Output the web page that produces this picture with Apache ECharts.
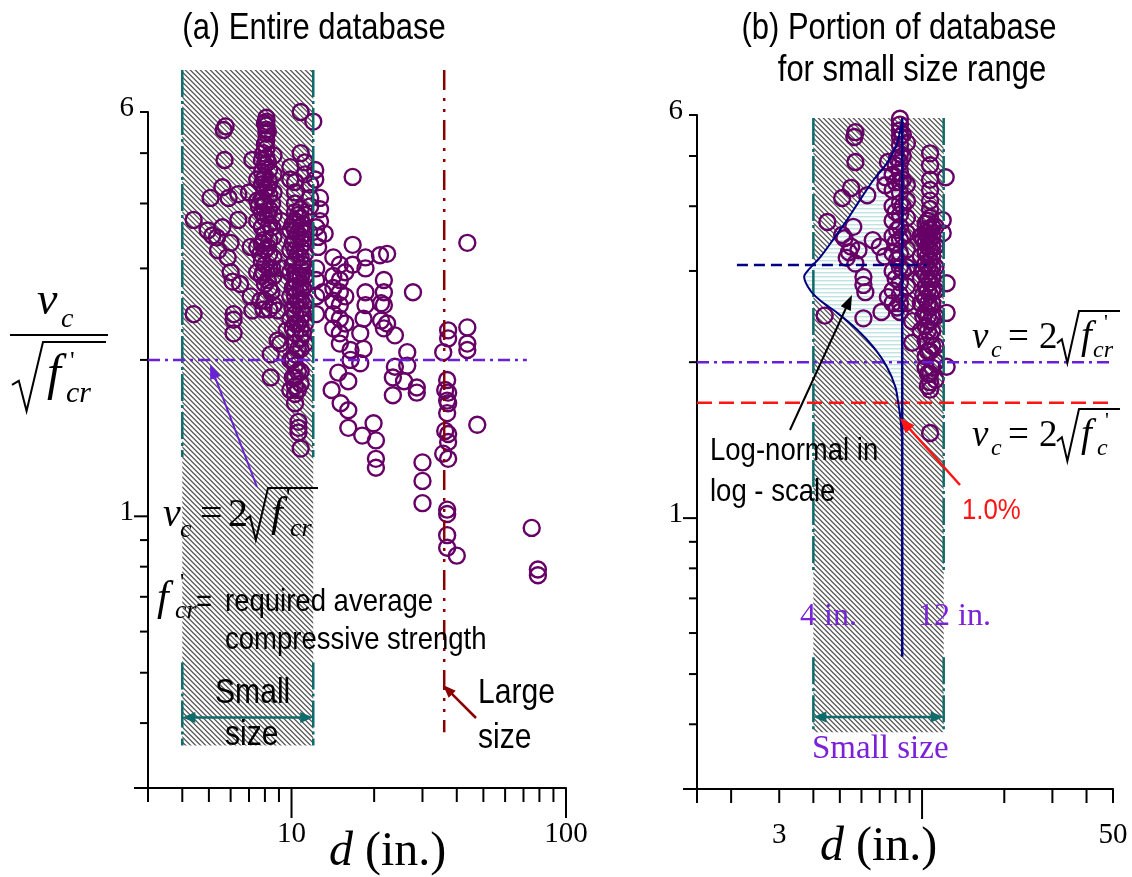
<!DOCTYPE html>
<html><head><meta charset="utf-8">
<script src="https://cdn.jsdelivr.net/npm/echarts@6/dist/echarts.min.js"></script>
<style>html,body{margin:0;padding:0;background:#fff}#c{width:1132px;height:877px}</style>
</head><body><div id="c"></div>
<script>
// ================= DATA =================
// Panel (a): entire database  [d (in.), vc/sqrt(f'cr)]
const pointsA = [
[4.4,3.72],[4.4,2.45],[5.07,4.1],[5.66,5.54],[5.75,5.63],[5.7,4.85],[5.6,4.3],[5.9,4.1],[6.4,4.17],[5.6,3.6],[6.4,3.72],[5.15,3.47],[6.0,3.36],[5.4,3.25],[5.85,3.15],[7.1,3.3],[6.0,2.95],[6.1,2.83],[6.5,2.8],[6.15,2.45],[6.15,2.39],[6.15,2.25],[7.2,2.49],[7.2,4.85],[5.35,3.44],[4.95,3.55],[7.1,2.65],[7.7,2.6],[7.9,2.5],[7.0,4.2],
[8.1,5.85],[8.1,5.75],[8.1,5.65],[8.1,5.55],[8.1,5.45],[8.1,5.3],[8.1,5.1],[8.1,4.9],
[7.8,4.85],[7.8,4.6],[7.8,4.35],[7.8,4.1],[7.8,3.85],[7.8,3.6],[7.8,3.35],[7.8,3.1],[7.8,2.9],
[8.0,4.75],[8.0,4.5],[8.0,4.25],[8.0,4.0],[8.0,3.75],[8.0,3.5],[8.0,3.25],[8.0,3.05],[8.0,2.8],[8.0,2.6],
[8.3,4.65],[8.3,4.4],[8.3,4.15],[8.3,3.9],[8.3,3.65],[8.3,3.4],[8.3,3.2],[8.3,3.0],[8.3,2.75],[8.3,2.5],
[8.6,4.95],[8.6,4.55],[8.6,4.2],[8.6,3.8],[8.6,3.45],[8.6,3.15],[8.6,2.9],[8.6,2.55],
[7.5,4.45],[7.5,4.05],[7.5,3.7],[7.5,3.3],[7.5,2.95],
[7.9,5.0],[8.2,4.8],[7.9,4.45],[8.2,4.3],[7.9,3.95],[8.2,3.8],[7.9,3.4],[8.2,3.3],[7.9,2.95],[8.2,2.85],[7.7,3.2],[8.5,3.6],[8.5,4.0],[8.5,3.0],[8.45,2.7],[7.6,3.95],[8.0,5.2],[8.2,5.5],[8.0,5.7],
[8.4,2.05],[8.4,1.85],[9.1,2.15],[8.9,2.49],[8.9,2.18],[9.6,2.28],[9.2,3.7],[9.2,3.0],
[9.9,3.55],[9.9,3.25],[9.9,2.95],[9.9,2.65],[9.9,2.4],[9.9,2.0],[9.9,1.75],[9.9,4.7],[9.9,4.45],
[10.3,4.4],[10.3,4.2],[10.3,4.0],[10.3,3.85],[10.3,3.7],[10.3,3.55],[10.3,3.4],[10.3,3.25],[10.3,3.1],[10.3,2.95],[10.3,2.85],[10.3,2.75],[10.3,2.65],[10.3,2.55],[10.3,2.45],[10.3,2.35],[10.3,2.25],[10.3,2.15],[10.3,2.05],[10.3,1.95],[10.3,1.85],[10.3,1.78],[10.3,1.72],[10.3,1.65],
[10.8,6.0],[10.8,5.0],[10.8,3.9],[10.8,3.75],[10.8,3.6],[10.8,3.45],[10.8,3.3],[10.8,3.15],[10.8,3.0],[10.8,2.9],[10.8,2.8],[10.8,2.7],[10.8,2.6],[10.8,2.5],[10.8,2.4],[10.8,2.3],[10.8,2.2],[10.8,2.1],[10.8,1.9],[10.8,1.8],
[10.1,3.65],[10.1,3.35],[10.1,3.05],[10.1,2.75],[10.1,2.5],[10.1,2.3],[10.55,3.8],[10.55,3.5],[10.55,3.2],[10.55,2.9],[10.55,2.6],[10.55,2.35],[10.55,2.1],[11.0,3.65],[11.0,3.35],[11.0,3.05],[11.0,2.75],[11.0,2.45],[11.0,2.25],[10.55,1.9],[10.55,1.75],[10.1,2.0],[10.1,1.85],
[11.2,4.55],[11.2,4.8],[11.2,3.8],[11.2,3.5],[11.2,3.2],[11.2,2.9],[11.2,2.6],[11.2,2.35],[11.2,2.15],
[10.6,1.52],[10.6,1.48],[10.6,1.45],[10.8,1.35],
[11.7,4.35],[11.7,4.1],[11.7,3.95],[12.0,6.6],[12.0,5.75],[12.2,4.64],[12.2,4.45],[12.7,4.1],[12.7,3.9],[12.7,3.7],[13.2,3.5],[12.5,3.45],[12.5,3.3],[12.3,3.6],[12.3,3.0],[12.3,2.85],[12.3,2.65],[12.3,2.45],[13.0,2.7],
[16.7,4.5],[16.7,3.33],[16.7,3.05],
[14.2,3.15],[14.2,2.9],[14.2,2.75],[14.2,2.6],[14.2,2.45],[14.2,2.3],
[15.0,3.05],[15.0,2.85],[15.0,2.7],[15.0,2.55],[15.0,2.4],[15.0,2.25],[15.0,2.15],
[15.7,2.95],[15.7,2.65],[15.7,2.35],
[16.4,2.09],[16.4,2.0],[14.8,1.89],[16.1,1.82],[14.0,1.75],[15.1,1.65],[16.1,1.6],[16.1,1.48],[18.1,1.43],[19.9,1.51],[20.3,1.40],[20.3,1.29],[20.3,1.24],
[18.6,3.15],[18.6,3.0],[18.6,2.7],[18.6,2.55],[18.3,2.4],[18.3,2.1],[21.0,3.18],[22.3,3.2],[21.7,2.85],[21.7,2.7],[21.7,2.55],[21.7,2.3],[22.3,2.35],[23.8,2.23],[23.8,1.94],[17.8,2.25],[17.8,1.97],[27.7,2.7],[26.4,2.07],[26.4,1.95],[23.4,1.85],[23.4,1.71],[25.7,1.82],[28.6,1.77],[28.6,1.73],[30,1.27],[30,1.17],[30,1.06],[21.2,2.38],[21.2,2.57],
[37.2,2.28],[37.2,2.2],[35.7,2.07],[36.9,1.83],[36.3,1.75],[37.2,1.73],[36.9,1.67],[37.2,1.65],[36.9,1.58],[36.3,1.46],[37.2,1.44],[37.2,1.39],[35.7,1.32],[37.2,1.29],[36.9,1.03],[36.9,1.01],[36.9,0.92],[36.9,0.87],[40,0.84],
[43.7,3.36],[43.7,2.31],[43.7,2.15],[43.7,2.09],[47.5,1.5],[75,0.95],[79,0.79],[79,0.77]
];
// Panel (b): portion of database for small size range
const pointsB = [
[5.7,5.56],[5.65,5.44],[5.7,4.87],[5.5,4.34],[5.1,4.15],[6.3,4.2],[7.34,4.55],[7.34,4.39],[7.5,4.87],[4.5,3.73],[5.6,3.65],[5.2,3.47],[5.5,3.34],[5.85,3.29],[5.3,3.18],[5.7,3.1],[6.6,3.44],[7.0,3.34],[7.3,3.2],[6.1,2.92],[6.1,2.82],[6.2,2.73],[4.4,2.46],[6.1,2.43],[7.1,2.5],[7.5,2.67],[5.1,3.52],[5.4,3.26],
[8.3,5.9],[8.3,5.75],[8.3,5.6],[8.3,5.45],[8.3,5.25],[8.3,5.05],[8.3,4.85],[8.3,4.65],[8.3,4.45],[8.3,4.25],[8.3,4.05],[8.3,3.85],[8.3,3.65],[8.3,3.45],[8.3,3.25],[8.3,3.05],[8.3,2.85],[8.3,2.7],[8.3,2.6],[8.3,2.5],
[7.8,4.6],[7.8,4.3],[7.8,4.0],[7.8,3.75],[7.8,3.5],[7.8,3.25],[7.8,3.0],[7.8,2.75],[7.8,2.6],
[8.8,5.3],[8.8,4.4],[8.8,4.1],[8.8,3.8],[8.8,3.55],[8.8,3.3],[8.8,3.05],[8.8,2.8],[8.8,2.6],
[8.5,5.5],[8.5,5.0],[8.5,4.5],[8.5,4.0],[8.5,3.5],[8.5,3.0],[8.0,4.8],[8.0,4.45],[8.0,3.9],[8.0,3.4],[8.0,2.9],
[8.1,4.95],[8.1,3.6],[8.1,3.15],[8.1,2.55],[9.2,2.18],[9.2,2.4],
[9.9,3.5],[9.9,3.2],[9.9,2.9],[9.9,2.6],[9.9,2.3],
[10.3,3.7],[10.3,3.55],[10.3,3.4],[10.3,3.25],[10.3,3.1],[10.3,2.95],[10.3,2.8],[10.3,2.65],[10.3,2.5],[10.3,2.35],[10.3,2.2],[10.3,2.05],[10.3,1.95],
[10.7,5.06],[10.7,4.8],[10.7,4.5],[10.7,4.3],[10.7,4.1],[10.7,3.95],[10.7,3.8],[10.7,3.6],[10.7,3.45],[10.7,3.3],[10.7,3.15],[10.7,3.0],[10.7,2.85],[10.7,2.7],[10.7,2.55],[10.7,2.4],[10.7,2.25],[10.7,2.1],[10.7,1.9],[10.7,1.83],[10.7,1.77],[10.7,1.46],
[10.5,3.75],[10.5,3.5],[10.5,3.2],[10.5,2.9],[10.5,2.6],[10.5,2.3],[10.5,2.1],[10.9,3.5],[10.9,3.2],[10.9,2.9],[10.9,2.6],[10.9,2.3],[10.1,3.45],[10.1,3.0],[10.1,2.7],[10.1,2.45],
[10.5,3.62],[10.5,3.35],[10.5,3.05],[10.5,2.75],[10.5,2.45],[10.9,3.65],[10.9,3.35],[10.9,3.05],[10.9,2.75],[10.9,2.45],[10.9,2.15],[10.9,1.95],[10.5,1.9],[10.5,1.8],
[11.2,3.65],[11.2,3.35],[11.2,3.05],[11.2,2.75],[11.2,2.45],[11.2,2.15],[11.2,1.85],[11.2,2.0],
[12.2,4.55],[11.9,3.76],[11.9,3.55],[12.3,2.84],[12.3,2.49],[12.3,1.96]
];
// Log-normal curve traced in panel (b) [d-position, ratio]
const pdfCurve = [[8.46,5.92],[8.11,5.30],[7.43,4.84],[6.63,4.49],[5.92,4.11],[5.31,3.76],[4.71,3.44],[4.24,3.19],[3.83,3.01],[3.70,2.92],[3.90,2.75],[4.24,2.63],[4.89,2.49],[5.79,2.31],[6.63,2.14],[7.43,1.96],[7.99,1.79],[8.18,1.67],[8.32,1.57],[8.46,1.41]];
const pdfBase = 8.46, pdfBaseLow = 0.54, pdfMean = 3.08, pdfMeanFrom = 2.1, pdfMeanTo = 10.4;
const smallRange = [4, 12];
const largeSize = 36;
const ratioReq = 2;      // vc = 2 sqrt(f'cr)
const ratioSpec = 1.67;  // vc = 2 sqrt(f'c)
// axis ticks
const xTicksA = [3,4,5,6,7,8,9,10,20,30,40,50,60,70,80,90,100];
const xMajorA = [10,100];
const xLabelsA = [[10,'10'],[100,'100']];
const xTicksB = [1.5,2,3,4,5,6,7,8,9,10,20,30,40,50];
const xMajorB = [10];
const xLabelsB = [[3,'3'],[50,'50']];
const yTicks = [0.3,0.4,0.5,0.6,0.7,0.8,0.9,1,2,3,4,5,6];
const yMajor = [0.3,1];
const yLabels = [[1,'1'],[6,'6']];

// ================= STYLE =================
const SERIF = '"Liberation Serif","Times New Roman",serif';
const SANS = '"Liberation Sans",Arial,sans-serif';
const NARROW = 0.86;
const PURPLE_PT = '#660066', TEAL = '#0e6b6b', PURPLE = '#6a1fd8', DARKRED = '#8b0000', NAVY = '#000080', RED = '#ff1414';
const DASHDOT = [27,4,3,4], DASHDOT2 = [20,8,3,8,3,8], PDASH = [12,5,3,5], RDASH = [15,7], NDASH = [11,6];

function makeHatch(){const n=5;const c=document.createElement('canvas');c.width=n;c.height=n;const g=c.getContext('2d');g.fillStyle='#fff';g.fillRect(0,0,n,n);
 for(let i=0;i<n;i++){g.fillStyle='#5e5e5e';g.fillRect(i,i,1,1);g.fillStyle='#8e8e8e';g.fillRect((i+1)%n,i,1,1);g.fillStyle='#dcdcdc';g.fillRect((i+n-1)%n,i,1,1);}return c;}
function makeHStripe(){const c=document.createElement('canvas');c.width=4;c.height=4;const g=c.getContext('2d');g.fillStyle='#fff';g.fillRect(0,0,4,4);
 g.fillStyle='#c2e1e1';g.fillRect(0,0,4,1);g.fillStyle='#e4f2f2';g.fillRect(0,1,4,1);return c;}
const HATCH = {image: makeHatch(), repeat: 'repeat'};
const HSTRIPE = {image: makeHStripe(), repeat: 'repeat'};

function seg(p,q,stroke,lw,dash){return {type:'line',shape:{x1:p[0],y1:p[1],x2:q[0],y2:q[1]},style:{stroke:stroke,lineWidth:lw,lineDash:dash||null,fill:null}};}
function head(p,q,color,len,half){const dx=q[0]-p[0],dy=q[1]-p[1],L=Math.hypot(dx,dy),ux=dx/L,uy=dy/L;const bx=q[0]-ux*len,by=q[1]-uy*len;
 return {type:'polygon',shape:{points:[[q[0],q[1]],[bx-uy*half,by+ux*half],[bx+uy*half,by-ux*half]]},style:{fill:color,stroke:null}};}
function arrow(p,q,color,lw,len,half){const dx=q[0]-p[0],dy=q[1]-p[1],L=Math.hypot(dx,dy);const e=[q[0]-dx/L*len*0.7,q[1]-dy/L*len*0.7];return [seg(p,e,color,lw),head(p,q,color,len,half)];}
function txt(s,x,base,size,o){o=o||{};const al=o.align||'left';
 return {type:'text',x:x,y:base-0.32*size,scaleX:o.sx||1,z:100,silent:true,
  style:{text:s,fill:o.color||'#000',font:(o.it?'italic ':'')+size+'px '+(o.fam||SERIF),align:al,textAlign:al,verticalAlign:'middle',textVerticalAlign:'middle'}};}
function rad(x,w,top,bot,end,lw){const mid=top+0.62*(bot-top);
 return {type:'polyline',z:100,silent:true,shape:{points:[[x,mid],[x+0.22*w,mid-4],[x+0.47*w,bot],[x+w,top],[end,top]]},style:{stroke:'#000',lineWidth:lw||2,fill:'none',lineJoin:'miter'}};}
function withZ(arr){arr.forEach(e=>{e.z=100;e.silent=true;});return arr;}

// ---------------- ticks (through axes) ----------------
function tickRenderer(xT,xMaj,xLab,yT,yMaj,yLab,xmin,ymin){
 return function(params,api){const ch=[];
  for(const v of xT){const p=api.coord([v,ymin]);ch.push(seg(p,[p[0],p[1]+(xMaj.includes(v)?30:14)],'#000',2));}
  for(const v of yT){const p=api.coord([xmin,v]);ch.push(seg(p,[p[0]-(yMaj.includes(v)?14:8),p[1]],'#000',2));}
  for(const [v,s] of xLab){const p=api.coord([v,ymin]);ch.push({type:'text',x:p[0],y:p[1]+46,style:{text:s,font:'29px '+SERIF,fill:'#000',align:'center',textAlign:'center',verticalAlign:'middle',textVerticalAlign:'middle'}});}
  for(const [v,s] of yLab){const p=api.coord([xmin,v]);ch.push({type:'text',x:p[0]-14,y:p[1]-4,style:{text:s,font:'29px '+SERIF,fill:'#000',align:'right',textAlign:'right',verticalAlign:'middle',textVerticalAlign:'middle'}});}
  return {type:'group',children:ch};};
}

// ---------------- decorations (through axes) ----------------
const A = {hTop:7.23, hBot:0.362, breakTop:1.30, breakBot:0.523, arrowY:0.41, largeBot:0.384, lineEnd:72};
const B = {hTop:5.92, hBot:0.386, breakTop:0.794, breakBot:0.539, arrowY:0.413, lineEnd:48.8, redEnd:48};
function hatchRenderer(H){return function(params,api){const p1=api.coord([smallRange[0],H.hTop]),p2=api.coord([smallRange[1],H.hBot]);
 return {type:'rect',shape:{x:p1[0],y:p1[1],width:p2[0]-p1[0],height:p2[1]-p1[1]},style:{fill:HATCH}};};}
function tealParts(api,H){const ch=[];
 for(const x of smallRange){ch.push(seg(api.coord([x,H.hTop]),api.coord([x,H.breakTop]),TEAL,2.5,DASHDOT));ch.push(seg(api.coord([x,H.breakBot]),api.coord([x,H.hBot]),TEAL,2.5,DASHDOT));}
 const l=api.coord([smallRange[0],H.arrowY]),r=api.coord([smallRange[1],H.arrowY]);
 ch.push(seg([l[0]+6,l[1]],[r[0]-6,r[1]],TEAL,2.5));ch.push(head(r,l,TEAL,13,5.5));ch.push(head(l,r,TEAL,13,5.5));return ch;}
function decorA(params,api){const ch=tealParts(api,A);
 ch.push(seg(api.coord([largeSize,A.hTop]),api.coord([largeSize,A.largeBot]),DARKRED,2.5,DASHDOT2));
 ch.push(seg(api.coord([3,ratioReq]),api.coord([A.lineEnd,ratioReq]),PURPLE,2.5,PDASH));
 return {type:'group',children:ch};}
function pdfFill(params,api){const pts=pdfCurve.map(p=>api.coord(p));
 return {type:'polygon',shape:{points:pts,smooth:0.3},style:{fill:HSTRIPE,stroke:null}};}
function decorB(params,api){const ch=tealParts(api,B);
 ch.push(seg(api.coord([1.5,ratioReq]),api.coord([B.lineEnd,ratioReq]),PURPLE,2.5,PDASH));
 ch.push(seg(api.coord([1.5,ratioSpec]),api.coord([B.redEnd,ratioSpec]),RED,2.5,RDASH));
 ch.push(seg(api.coord([pdfMeanFrom,pdfMean]),api.coord([pdfMeanTo,pdfMean]),NAVY,2.5,NDASH));
 ch.push(seg(api.coord([pdfBase,pdfCurve[0][1]]),api.coord([pdfBase,pdfBaseLow]),NAVY,2.5));
 ch.push({type:'polyline',shape:{points:pdfCurve.map(p=>api.coord(p)),smooth:0.3},style:{stroke:NAVY,lineWidth:2,fill:'none'}});
 return {type:'group',children:ch};}

function cust(gi,render,z){return {type:'custom',xAxisIndex:gi,yAxisIndex:gi,coordinateSystem:'cartesian2d',clip:false,silent:true,z:z,data:[[5,1]],renderItem:render};}
function scat(gi,pts){return {type:'scatter',xAxisIndex:gi,yAxisIndex:gi,data:pts,symbol:'circle',symbolSize:16,silent:true,z:3,
 itemStyle:{color:'rgba(0,0,0,0)',borderColor:PURPLE_PT,borderWidth:2.4,opacity:1},emphasis:{disabled:true}};}
function xax(gi,min,max){return {type:'log',logBase:10,gridIndex:gi,min:min,max:max,axisLine:{show:true,onZero:false,lineStyle:{color:'#000',width:2}},axisTick:{show:false},axisLabel:{show:false},splitLine:{show:false},minorTick:{show:false}};}

// ---------------- graphic annotations ----------------
const G = [];
G.push(txt('(a) Entire database',314,41,36,{fam:SANS,sx:NARROW,align:'center'}));
G.push(txt('(b) Portion of database',899,41,36,{fam:SANS,sx:NARROW,align:'center'}));
G.push(txt('for small size range',912,83,36,{fam:SANS,sx:NARROW,align:'center'}));
// axis titles
G.push(txt('d',329,868,48,{it:true}));G.push(txt(' (in.)',353,868,48));
G.push(txt('d',820,863,48,{it:true}));G.push(txt(' (in.)',844,863,48));
// y label fraction
G.push(txt('v',37,317,46,{it:true}));G.push(txt('c',61,329,28,{it:true}));
G.push(Object.assign(seg([10,335],[108,335],'#000',2),{z:100}));
G.push(rad(12,31,342,411,106,2));
G.push(txt('f',47,392,50,{it:true}));G.push(txt("'",70,370,26));G.push(txt('cr',66,404,30,{it:true}));
// equation panel a
G.push(txt('v',163,528,40,{it:true}));G.push(txt('c',180,538,26,{it:true}));G.push(txt('=',200,528,40));G.push(txt('2',228,528,40));
G.push(rad(245,23,488,540,318,2));
G.push(txt('f',271,528,42,{it:true}));G.push(txt("'",286,505,24));G.push(txt('cr',290,537,26,{it:true}));
// f'cr = required average
G.push(txt('f',157,612,42,{it:true}));G.push(txt("'",180,590,24));G.push(txt('cr',175,619,26,{it:true}));
G.push(txt('=',196,612,32,{fam:SANS,sx:NARROW}));
G.push(txt('required average',225,612,32,{fam:SANS,sx:NARROW}));
G.push(txt('compressive strength',225,650,32,{fam:SANS,sx:NARROW}));
G.push(txt('Small',215,705,35,{fam:SANS,sx:NARROW}));G.push(txt('size',225,747,35,{fam:SANS,sx:NARROW}));
G.push(txt('Large',478,705,35,{fam:SANS,sx:NARROW}));G.push(txt('size',478,750,35,{fam:SANS,sx:NARROW}));
G.push(...withZ(arrow([257,487],[210,364],PURPLE,2,15,5.5)));
G.push(...withZ(arrow([476,718],[443,685],DARKRED,2.5,13,5)));
// panel b equations
G.push(txt('v',972,350,37,{it:true}));G.push(txt('c',991,358,24,{it:true}));G.push(txt('=',1008,350,37));G.push(txt('2',1039,350,37));
G.push(rad(1057,22,311,363,1120,2));
G.push(txt('f',1081,350,39,{it:true}));G.push(txt("'",1104,330,22));G.push(txt('cr',1093,358,24,{it:true}));
G.push(txt('v',972,448,37,{it:true}));G.push(txt('c',991,456,24,{it:true}));G.push(txt('=',1008,448,37));G.push(txt('2',1039,448,37));
G.push(rad(1057,22,409,461,1120,2));
G.push(txt('f',1081,448,39,{it:true}));G.push(txt("'",1105,428,22));G.push(txt('c',1097,456,24,{it:true}));
G.push(txt('Log-normal in',710,461,32,{fam:SANS,sx:NARROW}));G.push(txt('log - scale',710,502,32,{fam:SANS,sx:NARROW}));
G.push(txt('1.0%',962,520,30,{fam:SANS,sx:NARROW,color:RED}));
G.push(txt('4 in.',800,627,32,{color:'#7b22d8'}));G.push(txt('12 in.',918,627,32,{color:'#7b22d8'}));
G.push(txt('Small size',812,760,33,{color:'#7b22d8'}));
G.push(...withZ(arrow([790,430],[852,295],'#000',2,15,5.5)));
G.push(...withZ(arrow([960,485],[900,418],RED,2.5,15,6)));

const option = {
 animation:false, backgroundColor:'#fff',
 grid:[{left:148,top:112,width:418,height:676,outerBoundsMode:'none',containLabel:false},{left:697,top:115,width:416,height:674,outerBoundsMode:'none',containLabel:false}],
 xAxis:[xax(0,3,100),xax(1,1.5,50)],
 yAxis:[xax(0,0.3,6),xax(1,0.3,6)],
 series:[
  cust(0,hatchRenderer(A),1),
  cust(1,hatchRenderer(B),1),
  cust(1,pdfFill,2),
  scat(0,pointsA),
  scat(1,pointsB),
  cust(0,decorA,5),
  cust(1,decorB,5),
  cust(0,tickRenderer(xTicksA,xMajorA,xLabelsA,yTicks,yMajor,yLabels,3,0.3),6),
  cust(1,tickRenderer(xTicksB,xMajorB,xLabelsB,yTicks,yMajor,yLabels,1.5,0.3),6)
 ],
 graphic:{elements:G}
};
const chart = echarts.init(document.getElementById('c'));
chart.setOption(option);
</script></body></html>
